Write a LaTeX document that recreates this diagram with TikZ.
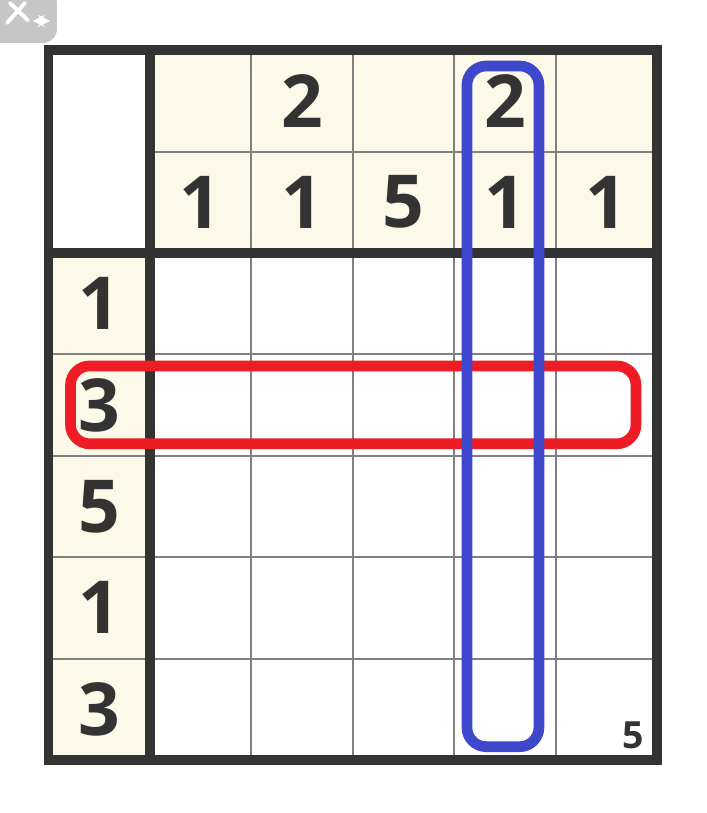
\documentclass[tikz,border=0pt]{standalone}
\usepackage{fontspec}
\setmainfont{Open Sans}
\definecolor{clue}{HTML}{FCF9E8}
\definecolor{ink}{HTML}{333333}
\definecolor{gridgray}{HTML}{808080}
\definecolor{redbox}{HTML}{EE1C24}
\definecolor{bluebox}{HTML}{3F48CC}
\tikzset{num/.style={font=\fontsize{20.5}{24}\selectfont\bfseries,text=ink,inner sep=0pt},
	hint/.style={line width=3pt,rounded corners=5.4pt}}
\begin{document}
\begin{tikzpicture}[line join=miter,>=stealth]
			\def\xmin{-0.48}\def\xmax{6.492}\def\ymin{-0.523}\def\ymax{7.495}
			\useasboundingbox (\xmin,\ymin) rectangle (\xmax,\ymax);
			\fill[white] (\xmin,\ymin) rectangle (\xmax,\ymax);
			% corner tab
			\fill[gray!45,rounded corners=4pt] (-0.6,7.6) rectangle (0.082,7.071);
			\draw[white,line width=1.1pt,line cap=round] (-0.411,7.268)--(-0.234,7.465) (-0.382,7.465)--(-0.204,7.295);
			\draw[white,<->,line width=.5pt] (-0.155,7.288)--(0.013,7.288);
			% clue cells
			\fill[clue] (1,5) rectangle (6,7) (0,0) rectangle (1,5);
			\foreach \x in {2,...,5}\draw[gridgray,line width=.55pt] (\x,0)--(\x,7);
			\foreach \y in {1,...,4}\draw[gridgray,line width=.55pt] (0,\y)--(6,\y);
			\draw[gridgray,line width=.55pt] (1,6)--(6,6);
			\draw[ink,line width=2.7pt] (0,0) rectangle (6,7) (1,0)--(1,7) (0,5)--(6,5);
			% clues
			\foreach \c/\n in {2/2,4/2}\node[num] (top\c) at (\c+.5,6.5) {\n};
			\foreach \c/\n in {1/1,2/1,3/5,4/1,5/1}\node[num] (col\c) at (\c+.5,5.5) {\n};
			\foreach \r/\n in {1/1,2/3,3/5,4/1,5/3}\node[num] (row\r) at (.5,5.5-\r) {\n};
			\node[font=\fontsize{10.5}{12}\selectfont\bfseries,text=ink,anchor=base east,inner sep=0pt] (size) at (5.881,0.118) {5};
			% highlighted lines
			\draw[redbox,hint] (0.215,3.118) rectangle (5.792,3.886);
			\draw[bluebox,hint] (4.125,0.131) rectangle (4.835,6.844);
		\end{tikzpicture}
\end{document}
